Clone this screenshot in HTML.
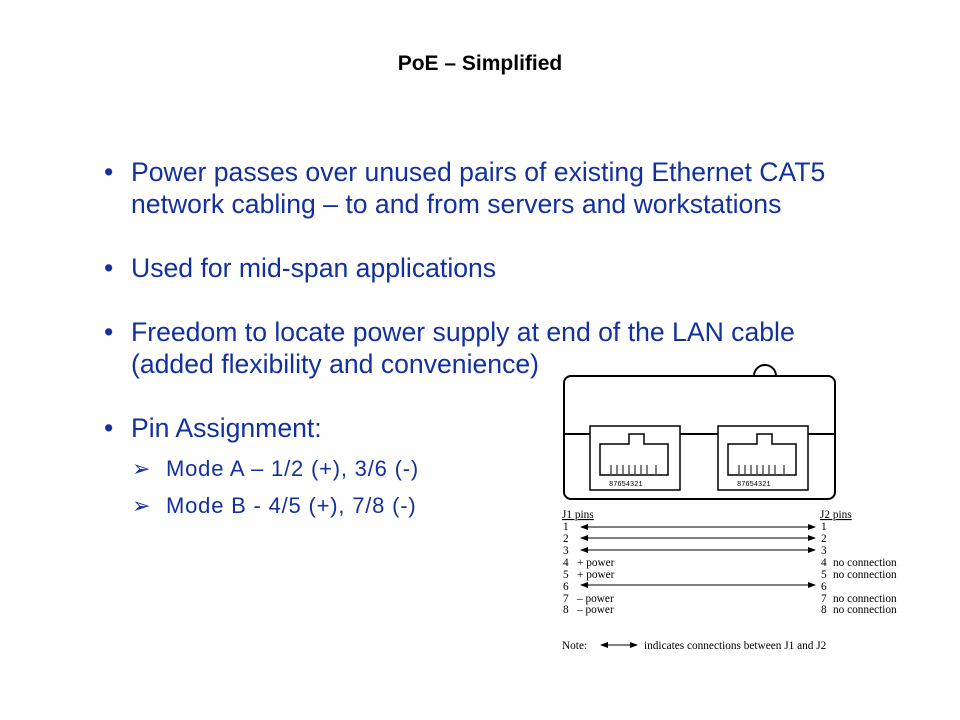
<!DOCTYPE html>
<html><head><style>
body{margin:0;width:960px;height:720px;background:#fff;position:relative;overflow:hidden;font-family:"Liberation Sans",sans-serif}
.t{position:absolute;white-space:nowrap;line-height:1}
.b{color:#1230a0;font-size:26.6px}
.s{color:#1230a0;font-size:22px;letter-spacing:0.8px}
</style></head><body>
<div class="t" style="left:0;width:960px;text-align:center;top:53px;font-size:21px;font-weight:bold">PoE – Simplified</div>
<div class="t b" style="left:104px;top:159px">•</div>
<div class="t b" style="left:131px;top:159px">Power passes over unused pairs of existing Ethernet CAT5</div>
<div class="t b" style="left:131px;top:191px">network cabling – to and from servers and workstations</div>
<div class="t b" style="left:104px;top:255px">•</div>
<div class="t b" style="left:131px;top:255px">Used for mid-span applications</div>
<div class="t b" style="left:104px;top:319px">•</div>
<div class="t b" style="left:131px;top:319px">Freedom to locate power supply at end of the LAN cable</div>
<div class="t b" style="left:131px;top:351px">(added flexibility and convenience)</div>
<div class="t b" style="left:104px;top:415px">•</div>
<div class="t b" style="left:131px;top:415px">Pin Assignment:</div>
<div class="t s" style="left:132px;top:458px;letter-spacing:0">➢</div>
<div class="t s" style="left:166px;top:458px">Mode A – 1/2 (+), 3/6 (-)</div>
<div class="t s" style="left:132px;top:495px;letter-spacing:0">➢</div>
<div class="t s" style="left:166px;top:495px">Mode B - 4/5 (+), 7/8 (-)</div>
<svg width="960" height="720" style="position:absolute;left:0;top:0" font-family="Liberation Serif,serif" font-size="11.3">
<defs><marker id="a" markerWidth="8" markerHeight="6" refX="7" refY="3" orient="auto-start-reverse"><path d="M0,0 L8,3 L0,6z" fill="#000"/></marker></defs>
<g fill="none" stroke="#000" stroke-width="2">
<path d="M754,376 A11,11 0 0 1 776,376"/>
<rect x="564" y="376" width="271" height="123" rx="7" fill="#fff"/>
<path d="M564,434 H590 M680,434 H718 M808,434 H835"/>
<g stroke-width="1.5">
<rect x="590" y="426" width="90" height="64"/>
<path d="M600,444 V475 H668 V444 H644 V434 H629 V444 Z"/>
<rect x="718" y="426" width="90" height="64"/>
<path d="M728,444 V475 H796 V444 H772 V434 H757 V444 Z"/>
</g>
<g stroke-width="1">
<path d="M611,465v9M617,465v9M623,465v9M629,465v9M635,465v9M641,465v9M647,465v9M656,465v9"/>
<path d="M739,465v9M745,465v9M751,465v9M757,465v9M763,465v9M769,465v9M775,465v9M784,465v9"/>
</g>
</g>
<g font-family="Liberation Mono,monospace" font-size="7"><text x="609" y="486">87654321</text><text x="737" y="486">87654321</text></g>
<text x="562" y="518" text-decoration="underline">J1 pins</text>
<text x="820" y="518" text-decoration="underline">J2 pins</text>
<g>
<text x="563" y="530">1</text><text x="563" y="542">2</text><text x="563" y="554">3</text><text x="563" y="566">4</text><text x="563" y="578">5</text><text x="563" y="590">6</text><text x="563" y="602">7</text><text x="563" y="613">8</text>
<text x="577" y="566">+ power</text><text x="577" y="578">+ power</text><text x="577" y="602">– power</text><text x="577" y="613">– power</text>
<text x="821" y="530">1</text><text x="821" y="542">2</text><text x="821" y="554">3</text><text x="821" y="566">4</text><text x="821" y="578">5</text><text x="821" y="590">6</text><text x="821" y="602">7</text><text x="821" y="613">8</text>
<text x="833" y="566">no connection</text><text x="833" y="578">no connection</text><text x="833" y="602">no connection</text><text x="833" y="613">no connection</text>
<text x="562" y="649">Note:</text><text x="644" y="649">indicates connections between J1 and J2</text>
</g>
<g stroke="#000" stroke-width="1" marker-start="url(#a)" marker-end="url(#a)">
<line x1="581" y1="527" x2="815" y2="527"/><line x1="581" y1="538" x2="815" y2="538"/><line x1="581" y1="550" x2="815" y2="550"/><line x1="581" y1="585" x2="815" y2="585"/>
<line x1="601" y1="645" x2="637" y2="645"/>
</g>
</svg>
</body></html>
